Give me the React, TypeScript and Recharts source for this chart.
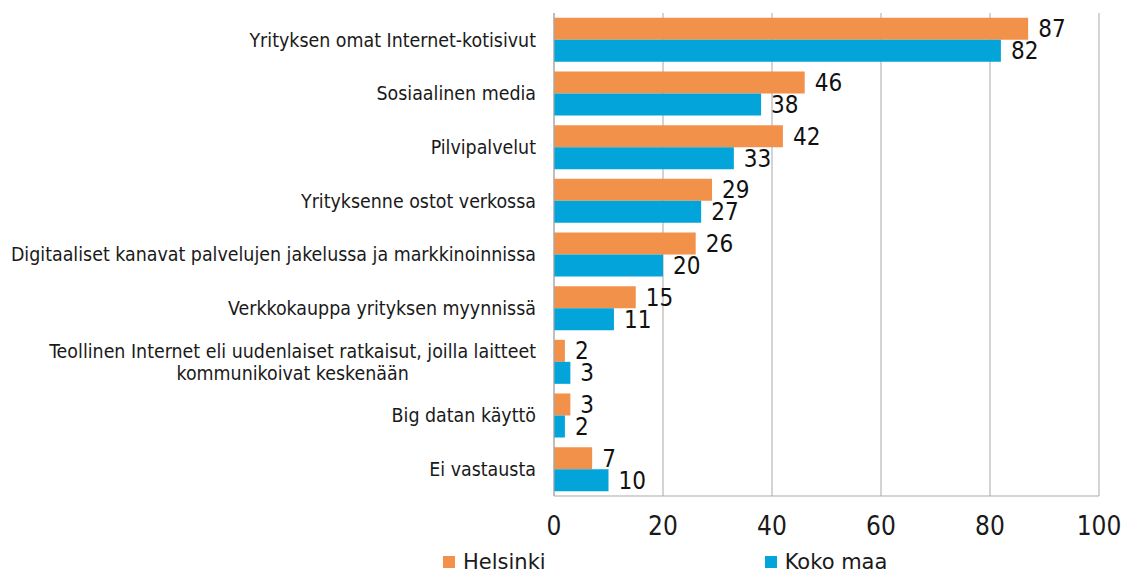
import React from "react"
import { Bar, BarChart, CartesianGrid, LabelList, Legend, XAxis, YAxis } from "recharts"

const categories = [
  "Yrityksen omat Internet-kotisivut",
  "Sosiaalinen media",
  "Pilvipalvelut",
  "Yrityksenne ostot verkossa",
  "Digitaaliset kanavat palvelujen jakelussa ja markkinoinnissa",
  "Verkkokauppa yrityksen myynnissä",
  "Teollinen Internet eli uudenlaiset ratkaisut, joilla laitteet\nkommunikoivat keskenään",
  "Big datan käyttö",
  "Ei vastausta",
]
const helsinki = [87, 46, 42, 29, 26, 15, 2, 3, 7]
const kokoMaa = [82, 38, 33, 27, 20, 11, 3, 2, 10]
const xTicks = [0, 20, 40, 60, 80, 100]

const ORANGE = "#F29149"
const BLUE = "#02A4D9"
const GRID = "#a9a9a9"
const LABEL_FONT = "'DejaVu Sans Condensed', 'DejaVu Sans', sans-serif"
const LABEL_SIZE = 19.4
const NUM_FONT = "'Liberation Sans Narrow', 'DejaVu Sans Condensed', sans-serif"

const data = categories.map((name, i) => ({ name, helsinki: helsinki[i], kokoMaa: kokoMaa[i] }))

let ctx: CanvasRenderingContext2D | null = null
function textWidth(t: string) {
  if (!ctx) ctx = document.createElement("canvas").getContext("2d")
  if (!ctx) return t.length * 9
  ctx.font = `${LABEL_SIZE}px ${LABEL_FONT}`
  return ctx.measureText(t).width
}

function CategoryTick({ x, y, payload }: any) {
  const lines = String(payload.value).split("\n")
  if (lines.length === 1) {
    return (
      <text x={x} y={y} dy="0.35em" textAnchor="end" fill="#1a1a1a" fontSize={LABEL_SIZE} fontFamily={LABEL_FONT}>
        {lines[0]}
      </text>
    )
  }
  const w = Math.max(...lines.map(textWidth))
  const cx = x - w / 2
  const lh = 22
  const start = -((lines.length - 1) * lh) / 2
  return (
    <text x={cx} y={y} textAnchor="middle" fill="#1a1a1a" fontSize={LABEL_SIZE} fontFamily={LABEL_FONT}>
      {lines.map((l, i) => (
        <tspan key={i} x={cx} y={y + start + i * lh} dy="0.35em">
          {l}
        </tspan>
      ))}
    </text>
  )
}

function ChartLegend() {
  const item = (color: string, label: string, ml: number) => (
    <span style={{ display: "inline-flex", alignItems: "center", marginLeft: ml }}>
      <span style={{ width: 12, height: 12, background: color, display: "inline-block", marginRight: 8 }} />
      <span style={{ fontFamily: "'DejaVu Sans', sans-serif", fontSize: 21, color: "#1a1a1a" }}>{label}</span>
    </span>
  )
  return (
    <div style={{ height: 41, width: 1131, display: "flex", alignItems: "flex-end", boxSizing: "border-box" }}>
      <div style={{ display: "flex", alignItems: "center", height: 30 }}>
        {item(ORANGE, "Helsinki", 443)}
        {item(BLUE, "Koko maa", 219)}
      </div>
    </div>
  )
}

export default function App() {
  return (
    <div style={{ position: "absolute", left: 0, top: 0, background: "#fff" }}>
      <BarChart
        width={1131}
        height={577}
        data={data}
        layout="vertical"
        margin={{ top: 13, right: 32, left: 0, bottom: 0 }}
        barCategoryGap="9%"
        barGap={0}
      >
        <CartesianGrid horizontal={false} stroke={GRID} />
        <XAxis
          type="number"
          domain={[0, 100]}
          ticks={xTicks}
          height={40}
          axisLine={{ stroke: GRID }}
          tickLine={false}
          tickSize={0}
          tickMargin={21}
          tick={{ fill: "#1a1a1a", fontSize: 26, fontFamily: NUM_FONT }}
        />
        <XAxis xAxisId="top" orientation="top" type="number" domain={[0, 100]} height={0} tick={false} tickLine={false} axisLine={{ stroke: GRID }} />
        <YAxis
          type="category"
          dataKey="name"
          width={554}
          axisLine={{ stroke: GRID }}
          tickLine={false}
          tickSize={0}
          tickMargin={18}
          interval={0}
          tick={<CategoryTick />}
        />
        <Legend verticalAlign="bottom" align="left" content={<ChartLegend />} />
        <Bar dataKey="helsinki" name="Helsinki" fill={ORANGE} isAnimationActive={false}>
          <LabelList dataKey="helsinki" position="right" offset={10} fill="#111" fontSize={24} fontFamily={NUM_FONT} />
        </Bar>
        <Bar dataKey="kokoMaa" name="Koko maa" fill={BLUE} isAnimationActive={false}>
          <LabelList dataKey="kokoMaa" position="right" offset={10} fill="#111" fontSize={24} fontFamily={NUM_FONT} />
        </Bar>
      </BarChart>
    </div>
  )
}
